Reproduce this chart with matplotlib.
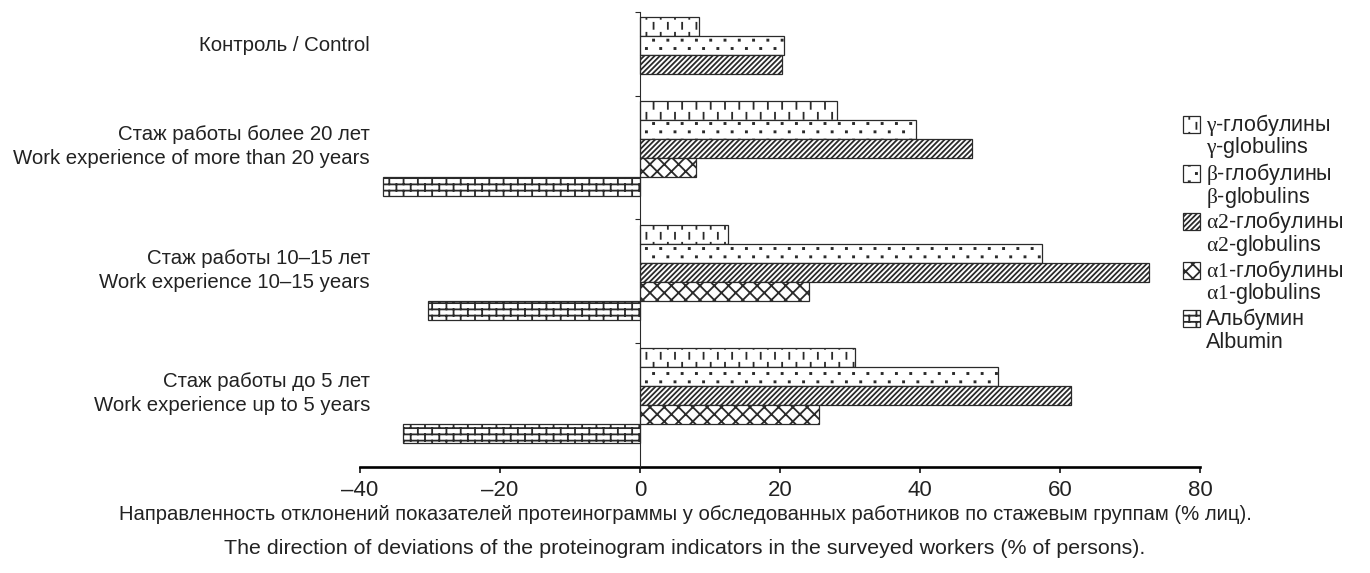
import numpy as np
import matplotlib
matplotlib.use("Agg")
import matplotlib.pyplot as plt
import matplotlib.hatch as mhatch
import matplotlib.transforms as mtransforms
from matplotlib.path import Path
from matplotlib.patches import Rectangle

# ---------------- data ----------------
group_labels_ru = ["Контроль / Control",
                   "Стаж работы более 20 лет",
                   "Стаж работы 10–15 лет",
                   "Стаж работы до 5 лет"]
group_labels_en = ["",
                   "Work experience of more than 20 years",
                   "Work experience 10–15 years",
                   "Work experience up to 5 years"]

gamma_glob = [8.4, 28.1, 12.6, 30.7]
beta_glob = [20.6, 39.4, 57.4, 51.2]
alpha2_glob = [20.3, 47.4, 72.7, 61.5]
alpha1_glob = [0.0, 8.0, 24.1, 25.6]
albumin = [0.0, -36.7, -30.3, -33.9]

series_ru = [r"$\mathrm{\gamma}$-глобулины", r"$\mathrm{\beta}$-глобулины",
             r"$\mathrm{\alpha 2}$-глобулины", r"$\mathrm{\alpha 1}$-глобулины",
             "Альбумин"]
series_en = [r"$\mathrm{\gamma}$-globulins", r"$\mathrm{\beta}$-globulins",
             r"$\mathrm{\alpha 2}$-globulins", r"$\mathrm{\alpha 1}$-globulins",
             "Albumin"]

xticks = [-40, -20, 0, 20, 40, 60, 80]
xtick_labels = ["–40", "–20", "0", "20", "40", "60", "80"]

caption_ru = ("Направленность отклонений показателей протеинограммы у обследованных "
              "работников по стажевым группам (% лиц).")
caption_en = ("The direction of deviations of the proteinogram indicators in the "
              "surveyed workers (% of persons).")

# ---------------- custom hatches ----------------
MOVETO, LINETO, CLOSE = Path.MOVETO, Path.LINETO, Path.CLOSEPOLY


class DashHatch(mhatch.HatchPatternBase):
    """staggered vertical dashes, triggered by '|'"""
    def __init__(self, hatch, density):
        n = hatch.count('|')
        self.ncols = 7 * n
        self.nrows = 10 * n
        self.num_vertices = 2 * self.ncols * self.nrows

    def set_vertices_and_codes(self, vertices, codes):
        dx = 1.0 / self.ncols
        dy = 1.0 / self.nrows
        k = 0
        for r in range(self.nrows):
            off = 0.5 * dx * (r % 2)
            for c in range(self.ncols):
                x = c * dx + off + 0.25 * dx
                vertices[k] = (x, r * dy + 0.12 * dy)
                vertices[k + 1] = (x, r * dy + 0.72 * dy)
                codes[k] = MOVETO
                codes[k + 1] = LINETO
                k += 2


class BrickHatch(mhatch.HatchPatternBase):
    """brick wall, triggered by '+'"""
    def __init__(self, hatch, density):
        n = hatch.count('+')
        self.ncols = 7 * n
        self.nrows = 16 * n
        self.num_vertices = (2 * self.nrows + 2 * (self.nrows + 1) * self.ncols) if n else 0

    def set_vertices_and_codes(self, vertices, codes):
        dx = 1.0 / self.ncols
        dy = 1.0 / self.nrows
        k = 0
        for r in range(self.nrows):
            y = (r + 0.5) * dy
            vertices[k] = (0.0, y)
            vertices[k + 1] = (1.0, y)
            codes[k] = MOVETO
            codes[k + 1] = LINETO
            k += 2
        for r in range(-1, self.nrows):
            y0 = max(0.0, (r + 0.5) * dy)
            y1 = min(1.0, (r + 1.5) * dy)
            off = 0.5 * dx * (r % 2)
            for c in range(self.ncols):
                x = c * dx + off + 0.25 * dx
                vertices[k] = (x, y0)
                vertices[k + 1] = (x, y1)
                codes[k] = MOVETO
                codes[k + 1] = LINETO
                k += 2


class DotHatch(mhatch.HatchPatternBase):
    """staggered small dots, triggered by '.'"""
    def __init__(self, hatch, density):
        n = hatch.count('.')
        self.ncols = 7 * n
        self.nrows = 12 * n
        self.num_vertices = 5 * self.ncols * self.nrows

    def set_vertices_and_codes(self, vertices, codes):
        dx = 1.0 / self.ncols
        dy = 1.0 / self.nrows
        s = 0.0055
        k = 0
        for r in range(self.nrows):
            off = 0.5 * dx * (r % 2)
            y = r * dy + 0.015
            for c in range(self.ncols):
                x = c * dx + off + 0.25 * dx
                vertices[k:k + 5] = [(x - s, y - s), (x + s, y - s), (x + s, y + s),
                                     (x - s, y + s), (x - s, y - s)]
                codes[k:k + 5] = [MOVETO, LINETO, LINETO, LINETO, CLOSE]
                k += 5


def _diag_offsets(n):
    return np.arange(-n, n + 1) / n


class NEHatch(mhatch.HatchPatternBase):
    """'/' -> 19 lines per unit, 'x' -> 7 per unit"""
    def __init__(self, hatch, density):
        self.n = hatch.count('/') * 19 + hatch.count('x') * 7
        self.num_vertices = (2 * self.n + 1) * 2 if self.n else 0

    def set_vertices_and_codes(self, vertices, codes):
        c = _diag_offsets(self.n)
        vertices[0::2, 0] = c
        vertices[0::2, 1] = 0.0
        vertices[1::2, 0] = c + 1.0
        vertices[1::2, 1] = 1.0
        codes[0::2] = MOVETO
        codes[1::2] = LINETO


class SEHatch(mhatch.HatchPatternBase):
    def __init__(self, hatch, density):
        self.n = hatch.count('x') * 7
        self.num_vertices = (2 * self.n + 1) * 2 if self.n else 0

    def set_vertices_and_codes(self, vertices, codes):
        c = _diag_offsets(self.n)
        vertices[0::2, 0] = c
        vertices[0::2, 1] = 1.0
        vertices[1::2, 0] = c + 1.0
        vertices[1::2, 1] = 0.0
        codes[0::2] = MOVETO
        codes[1::2] = LINETO


mhatch._hatch_types = [NEHatch, SEHatch, DashHatch, BrickHatch, DotHatch]

# ---------------- style ----------------
plt.rcParams["font.family"] = ["Liberation Sans", "DejaVu Sans"]
plt.rcParams["mathtext.fontset"] = "custom"
plt.rcParams["mathtext.rm"] = "Liberation Serif"
plt.rcParams["hatch.linewidth"] = 1.3
plt.rcParams["hatch.color"] = "black"

TXT = "#222222"
EDGE = "#2a2a2a"
LBL = 14.7
LEG = 15.5
hatches = ["|", ".", "/", "x", "+"]
series_vals = [gamma_glob, beta_glob, alpha2_glob, alpha1_glob, albumin]

W, H = 1370, 573
fig = plt.figure(figsize=(W / 100, H / 100), dpi=100)
ax = fig.add_axes([360 / W, (H - 467) / H, 840 / W, 455 / H])

# layout (in "pixel" units along y, axis top = 0)
BAR_H = 19
group_centers = [33.5, 136, 260, 383.5]

for gi, gc in enumerate(group_centers):
    visible = [si for si in range(len(series_vals)) if series_vals[si][gi] != 0]
    n = len(visible)
    for k, si in enumerate(visible):
        y = gc + (k - (n - 1) / 2) * BAR_H
        ax.barh(y, series_vals[si][gi], height=BAR_H, left=0,
                facecolor="white", edgecolor=EDGE, linewidth=0.9,
                hatch=hatches[si], zorder=2)

ax.set_xlim(-40, 80)
ax.set_ylim(455, 0)

for s in ["top", "right"]:
    ax.spines[s].set_visible(False)
ax.spines["left"].set_position(("data", 0))
ax.spines["left"].set_linewidth(0.8)
ax.spines["left"].set_color(EDGE)
ax.spines["left"].set_zorder(3)
ax.spines["bottom"].set_linewidth(1.9)
ax.spines["bottom"].set_color("black")

ax.set_yticks([0, 84, 207, 331])
ax.set_yticklabels([])
ax.tick_params(axis="y", direction="out", length=3.5, width=0.8, color=EDGE)

ax.set_xticks(xticks)
ax.set_xticklabels(xtick_labels, family="Liberation Sans", size=16, color=TXT)
ax.tick_params(axis="x", direction="out", length=4.5, width=1.1, pad=4.5, colors="black")
for lab in ax.get_xticklabels():
    lab.set_color(TXT)

# category labels
trans = mtransforms.blended_transform_factory(fig.transFigure, ax.transData)
xl = 370 / W
for gi, gc in enumerate(group_centers):
    if group_labels_en[gi]:
        ax.text(xl, gc - 14, group_labels_ru[gi], transform=trans, ha="right",
                va="center", fontsize=LBL, color=TXT, clip_on=False)
        ax.text(xl, gc + 10, group_labels_en[gi], transform=trans, ha="right",
                va="center", fontsize=LBL, color=TXT, clip_on=False)
    else:
        ax.text(xl, gc, group_labels_ru[gi], transform=trans, ha="right",
                va="center", fontsize=LBL, color=TXT, clip_on=False)

# legend (manual)
leg_y = [125, 174, 222, 271, 319]
for si in range(len(series_ru)):
    y = leg_y[si]
    rect = Rectangle((1183 / W, 1 - (y + 8) / H), 17 / W, 17 / H,
                     transform=fig.transFigure, facecolor="white",
                     edgecolor=EDGE, linewidth=0.9, hatch=hatches[si])
    fig.add_artist(rect)
    fig.text(1206 / W, 1 - y / H, series_ru[si], ha="left", va="center",
             fontsize=LEG, color=TXT)
    fig.text(1206 / W, 1 - (y + 23) / H, series_en[si], ha="left", va="center",
             fontsize=LEG, color=TXT)

# caption
fig.text(0.5, 1 - 514 / H, caption_ru, ha="center", va="center", color=TXT,
         family="Liberation Sans", size=14.6)
fig.text(0.5, 1 - 548 / H, caption_en, ha="center", va="center", color=TXT,
         family="Liberation Sans", size=15.4)

fig.savefig("out.png", dpi=100, facecolor="white")
